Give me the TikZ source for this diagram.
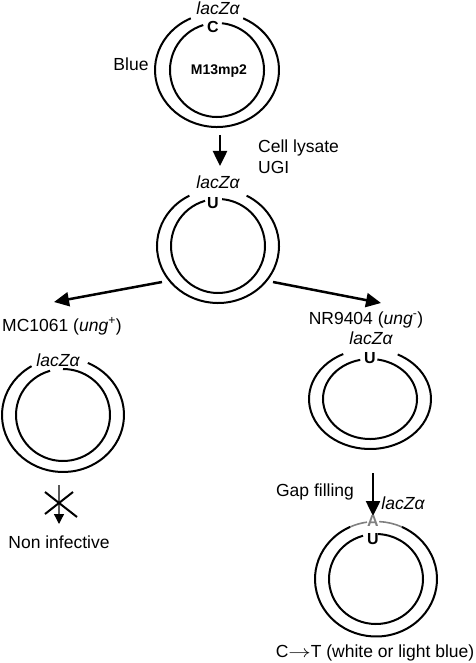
\documentclass[tikz,border=0pt]{standalone}
\usepackage{fontspec}
\setmainfont{Liberation Sans}
\usetikzlibrary{arrows.meta}
\definecolor{agray}{gray}{0.5}
\begin{document}
\begin{tikzpicture}[x=1pt,y=1pt,
  ring/.style={line width=2pt},
  txt/.style={anchor=base, inner sep=0pt, font=\fontsize{17.5}{20}\selectfont},
  gene/.style={txt, font=\fontsize{17.5}{20}\selectfont\itshape},
  basel/.style={anchor=base, inner sep=0pt, font=\fontsize{16}{18}\selectfont\bfseries},
  mlabel/.style={anchor=base, inner sep=0pt, font=\fontsize{14}{16}\selectfont\bfseries},
  flow/.style={line width=2.5pt, -{Triangle[length=15pt,width=14pt]}},
  thinflow/.style={line width=1.3pt, draw=black!65, -{Triangle[length=10pt,width=10pt,color=black]}},
]
\useasboundingbox (0,0) rectangle (475,-663);

% ---------- ring 1 ----------
\coordinate (c1) at (217,-70);
\draw[ring] (c1) ++(115:62 and 57) arc[start angle=115,end angle=425,x radius=62,y radius=57];
\draw[ring] (c1) ++(107:47) arc[start angle=107,end angle=444,radius=47];
\node[gene] (z1) at (218,-15) {lacZα};
\node[basel] (b1) at (213,-33) {C};
\node[mlabel] (m1) at (219,-75) {M13mp2};
\node[txt] (blue) at (131,-71) {Blue};

% arrow 1
\coordinate (a1s) at (220,-135);
\coordinate (a1e) at (220,-166);
\draw[flow] (a1s) -- (a1e);
\node[txt, anchor=base west] (cl) at (258,-153) {Cell lysate};
\node[txt, anchor=base west] (ugi) at (258,-173) {UGI};

% ---------- ring 2 ----------
\coordinate (c2) at (218,-246);
\draw[ring] (c2) ++(118:61 and 57) arc[start angle=118,end angle=422,x radius=61,y radius=57];
\draw[ring] (c2) ++(106:47) arc[start angle=106,end angle=445,radius=47];
\node[gene] (z2) at (218,-189) {lacZα};
\node[basel] (b2) at (213,-208) {U};

% branch arrows
\coordinate (l1s) at (162,-282);
\coordinate (l1e) at (54,-302);
\coordinate (r1s) at (273,-282);
\coordinate (r1e) at (381,-303);
\draw[flow] (l1s) -- (l1e);
\draw[flow] (r1s) -- (r1e);
\node[txt] (mc) at (62,-331) {MC1061 (\textit{ung}\textsuperscript{+})};
\node[txt] (nr) at (366,-324) {NR9404 (\textit{ung}\textsuperscript{-})};

% ---------- ring 3 ----------
\coordinate (c3) at (63,-415);
\draw[ring] (c3) ++(121:61 and 57) arc[start angle=121,end angle=426,x radius=61,y radius=57];
\draw[ring] (c3) ++(106:47 and 46) arc[start angle=106,end angle=450,x radius=47,y radius=46];
\node[gene] (z3) at (58,-366) {lacZα};

% non infective
\coordinate (n1s) at (59,-485);
\coordinate (n1e) at (59,-524);
\draw[thinflow] (n1s) -- (n1e);
\draw[line width=2pt] (45,-492) -- (77,-517);
\draw[line width=2pt] (45,-514) -- (73,-492);
\node[txt] (ni) at (59,-548) {Non infective};

% ---------- ring 4 ----------
\coordinate (c4) at (370,-399);
\draw[ring] (c4) ++(116:61 and 50) arc[start angle=116,end angle=423,x radius=61,y radius=50];
\draw[ring] (c4) ++(102:47 and 40) arc[start angle=102,end angle=441,x radius=47,y radius=40];
\node[gene] (z4) at (371,-344) {lacZα};
\node[basel] (b4) at (370,-363) {U};

% gap filling
\coordinate (g1s) at (373,-473);
\coordinate (g1e) at (373,-516);
\draw[flow] (g1s) -- (g1e);
\node[txt] (gf) at (315,-496) {Gap filling};
\node[gene] (z5) at (403,-509) {lacZα};

% ---------- ring 5 ----------
\coordinate (c5) at (376,-579);
\draw[ring] (c5) ++(115:61 and 57.5) arc[start angle=115,end angle=425,x radius=61,y radius=57.5];
\draw[line width=1.6pt, agray] (c5) ++(65:61 and 57.5) arc[start angle=65,end angle=87,x radius=61,y radius=57.5];
\draw[line width=1.6pt, agray] (c5) ++(98.5:61 and 57.5) arc[start angle=98.5,end angle=115,x radius=61,y radius=57.5];
\draw[ring] (c5) ++(106:47 and 45) arc[start angle=106,end angle=447.5,x radius=47,y radius=45];
\node[basel, text=agray] (a5) at (373,-526) {A};
\node[basel] (b5) at (373,-544) {U};
\node[txt] (ct) at (375,-657) {C\scalebox{1.3}[1]{$\rightarrow$}T (white or light blue)};
\end{tikzpicture}
\end{document}
